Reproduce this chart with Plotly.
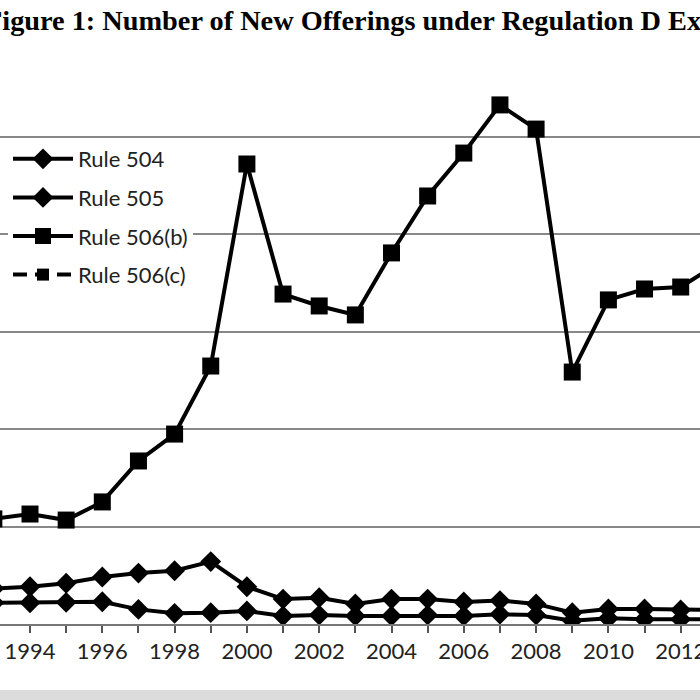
import plotly.graph_objects as go

years = list(range(1993, 2014))
rule_504 = [1820, 1910, 2090, 2410, 2610, 2730, 3200, 1910, 1280, 1350, 1030, 1280, 1280,
            1130, 1200, 1030, 580, 770, 770, 720, 720]
rule_505 = [1090, 1090, 1110, 1140, 750, 550, 580, 670, 410, 460, 410, 410, 460,
            410, 500, 460, 170, 290, 240, 240, 240]
rule_506b = [5390, 5640, 5330, 6260, 8360, 9740, 13230, 23590, 16920, 16310, 15850, 19030,
             21950, 24150, 26620, 25380, 12920, 16620, 17180, 17280, 18450]
rule_506c = [None] * 20 + [900]
tick_years = list(range(1994, 2013, 2))

title_text = "<b>Figure 1: Number of New Offerings under Regulation D Exemptions</b>"

W, H = 700, 700
plot_top, plot_bottom = 40, 624
ph = plot_bottom - plot_top
px_per_5000 = 97.5
ymax = ph / px_per_5000 * 5000
x0 = 1994 - 30 / 36.15
x1 = x0 + W / 36.15

fig = go.Figure()
common = dict(mode="lines+markers", line=dict(color="black", width=4))
fig.add_trace(go.Scatter(x=years, y=rule_504, name="Rule 504", legendgroup="a",
                         marker=dict(symbol="diamond", size=16, color="black"), **common))
fig.add_trace(go.Scatter(x=years, y=rule_505, name="Rule 505", legendgroup="b",
                         marker=dict(symbol="diamond", size=16, color="black"), **common))
fig.add_trace(go.Scatter(x=years, y=rule_506b, name="Rule 506(b)", legendgroup="c",
                         marker=dict(symbol="square", size=17, color="black"), **common))
fig.add_trace(go.Scatter(x=years, y=rule_506c, name="Rule 506(c)", mode="lines+markers",
                         legendgroup="d",
                         line=dict(color="black", width=4, dash="14px,8px"),
                         marker=dict(symbol="square", size=12, color="black")))

fig.update_layout(
    width=W, height=H, template="none",
    margin=dict(l=0, r=0, t=plot_top, b=H - plot_bottom, pad=0),
    paper_bgcolor="white", plot_bgcolor="white",
    showlegend=True,
    legend=dict(x=8 / W, y=(plot_bottom - 138) / ph, xanchor="left", yanchor="top",
                bgcolor="white", borderwidth=0, itemwidth=60, tracegroupgap=7,
                font=dict(family="Lato, Open Sans, sans-serif", size=22, color="#222")),
    xaxis=dict(range=[x0, x1], tickvals=tick_years, ticktext=[str(y) for y in tick_years],
               showgrid=False, zeroline=False, showline=True, linecolor="#777", linewidth=2,
               ticks="outside", ticklen=7, tickcolor="#555", tickwidth=2,
               minor=dict(dtick=1, tick0=1993, ticks="outside", ticklen=7, tickcolor="#555", tickwidth=2),
               automargin=False, ticklabeloverflow="allow",
               tickfont=dict(family="Lato, Open Sans, sans-serif", size=22, color="#222")),
    yaxis=dict(range=[0, ymax], dtick=5000, showgrid=True, gridcolor="#888", gridwidth=2,
               zeroline=False, showticklabels=False, showline=False, automargin=False),
    annotations=[dict(text=title_text, x=-17.5 / W, y=(plot_bottom - 20) / ph, xref="paper", yref="paper",
                      xanchor="left", yanchor="middle", showarrow=False,
                      font=dict(family="Liberation Serif, Times New Roman, serif", size=28.3, color="black"))],
    shapes=[dict(type="rect", xref="paper", yref="paper", x0=-0.01, x1=1.01,
                 y0=-(H - plot_bottom + 5) / ph, y1=-(690 - plot_bottom) / ph,
                 fillcolor="#dcdcdc", line=dict(width=0), layer="above")],
)

fig.write_html("out.html", config={"displayModeBar": False},
               post_script="document.body.style.margin='0';document.body.style.overflow='hidden';")
